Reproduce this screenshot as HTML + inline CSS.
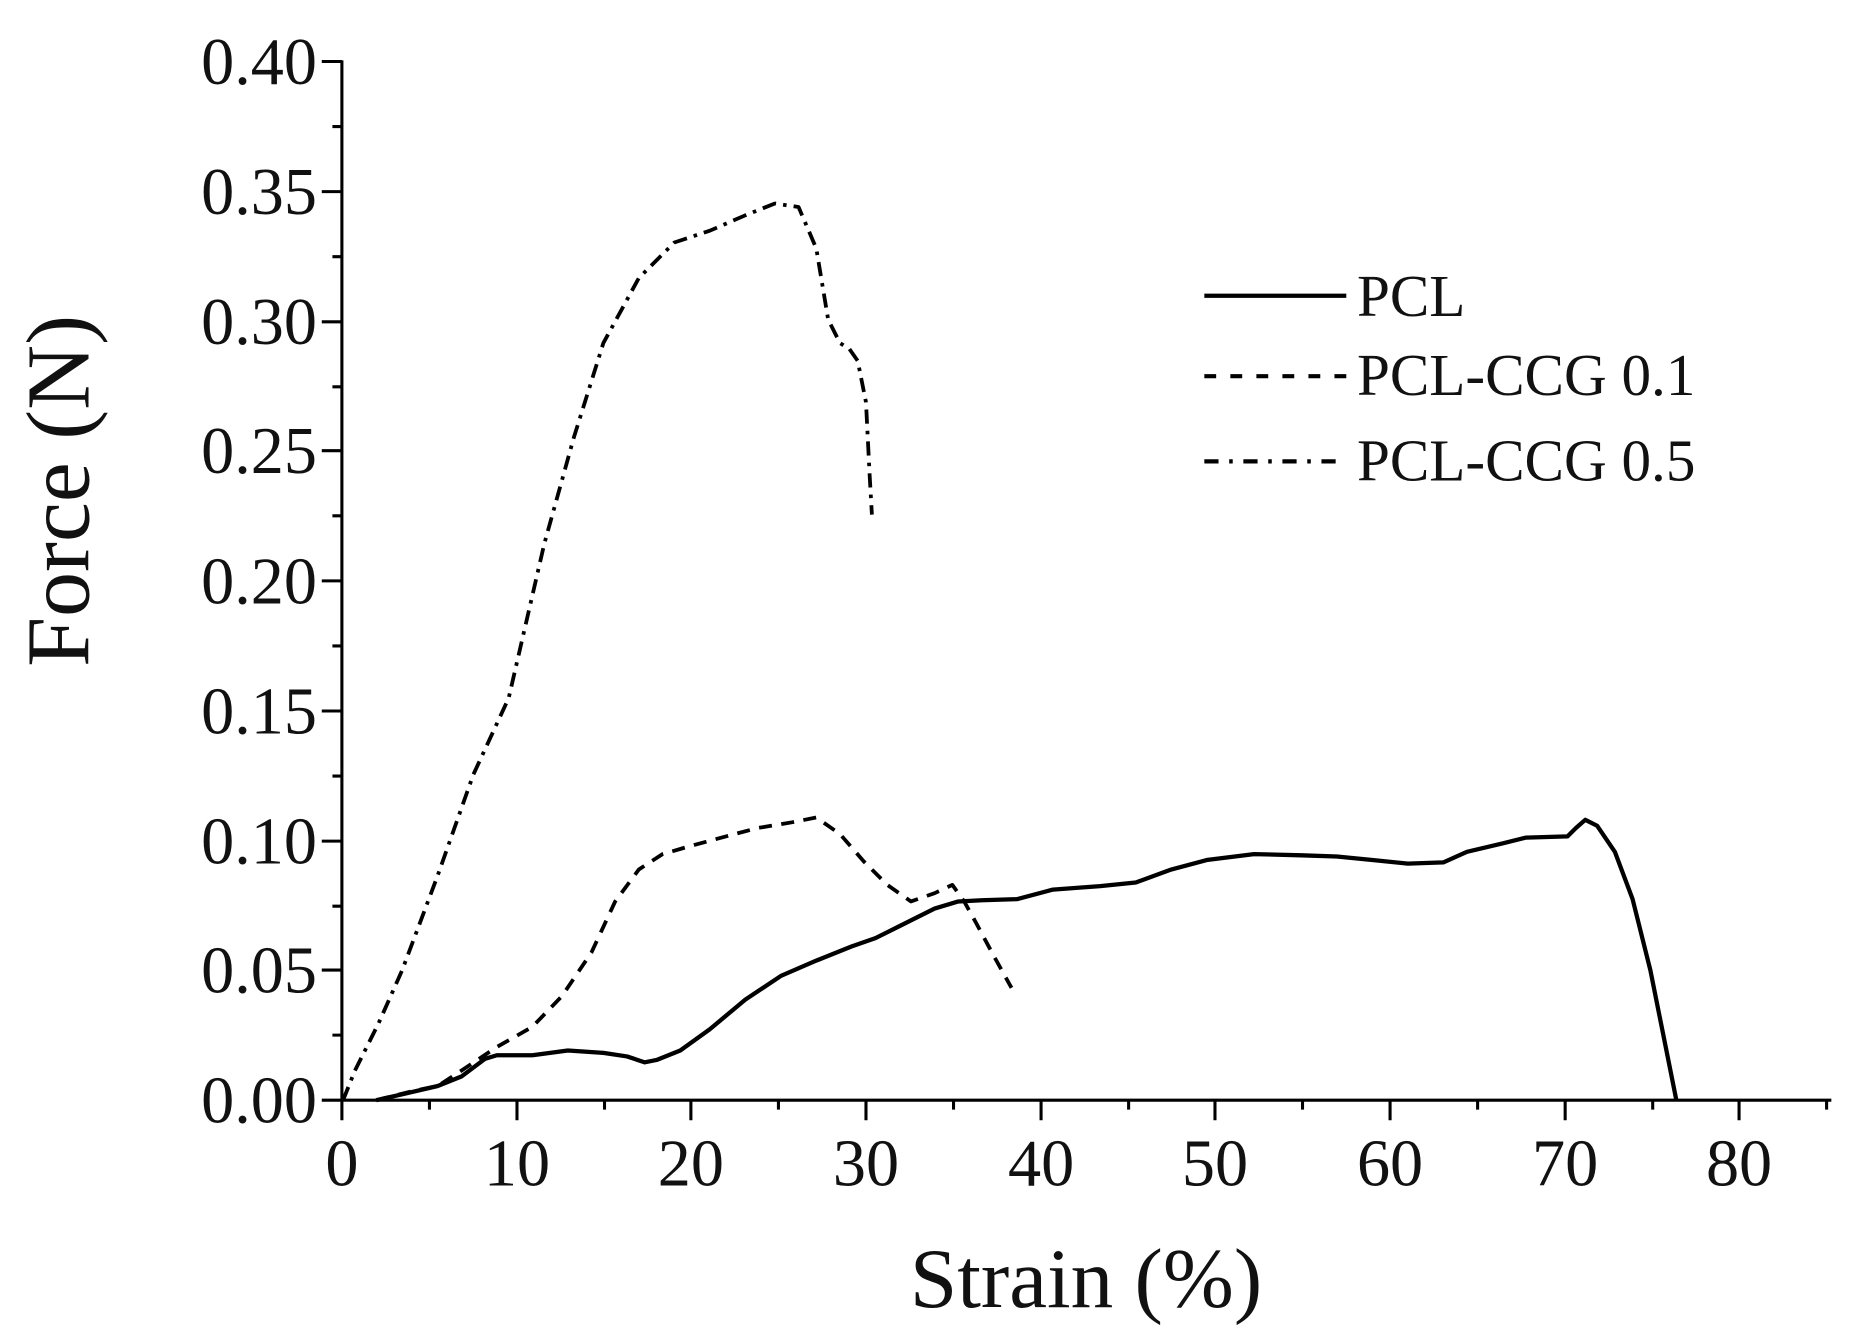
<!DOCTYPE html>
<html><head><meta charset="utf-8"><style>
html,body{margin:0;padding:0;background:#fff;}
svg{display:block;}
text{font-family:"Liberation Serif",serif;fill:#111;}
</style></head><body>
<svg width="1855" height="1342" viewBox="0 0 1568 1134.4" preserveAspectRatio="none" xmlns="http://www.w3.org/2000/svg">
<g stroke="#000" stroke-width="2.6" fill="none">
<line x1="289" y1="51" x2="289" y2="931"/>
<line x1="288" y1="930" x2="1548" y2="930"/>
<path d="M272 52H289M272 162H289M272 272H289M272 381H289M272 491H289M272 601H289M272 711H289M272 820H289M272 930H289"/>
<path d="M281 107H289M281 217H289M281 327H289M281 436H289M281 546H289M281 656H289M281 766H289M281 875H289"/>
<path d="M289 930V947M437 930V947M584 930V947M732 930V947M880 930V947M1027 930V947M1175 930V947M1323 930V947M1470 930V947"/>
<path d="M363 930V938M511 930V938M658 930V938M806 930V938M954 930V938M1101 930V938M1249 930V938M1397 930V938M1544 930V938"/>
</g>
<g font-size="56" text-anchor="end">
<text x="268" y="71">0.40</text><text x="268" y="181">0.35</text><text x="268" y="291">0.30</text>
<text x="268" y="400">0.25</text><text x="268" y="510">0.20</text><text x="268" y="620">0.15</text>
<text x="268" y="730">0.10</text><text x="268" y="839">0.05</text><text x="268" y="949">0.00</text>
</g>
<g font-size="56" text-anchor="middle">
<text x="289" y="1002">0</text><text x="437" y="1002">10</text><text x="584" y="1002">20</text>
<text x="732" y="1002">30</text><text x="880" y="1002">40</text><text x="1027" y="1002">50</text>
<text x="1175" y="1002">60</text><text x="1323" y="1002">70</text><text x="1470" y="1002">80</text>
</g>
<text x="918" y="1105" font-size="72" text-anchor="middle">Strain (%)</text>
<text transform="translate(75,415) rotate(-90)" font-size="76" text-anchor="middle">Force (N)</text>
<g stroke="#000" stroke-width="3.5" fill="none">
<line x1="1018" y1="250" x2="1138" y2="250"/>
<line x1="1018" y1="318" x2="1138" y2="318" stroke-dasharray="10 12"/>
<line x1="1018" y1="390" x2="1138" y2="390" stroke-dasharray="12 9 3 9"/>
</g>
<g font-size="50">
<text x="1147" y="267">PCL</text><text x="1147" y="334">PCL-CCG 0.1</text><text x="1147" y="406">PCL-CCG 0.5</text>
</g>
<g fill="none" stroke="#000" stroke-linejoin="round">
<polyline stroke-width="3.6" points="318,930 340,925 370,918 390,910 410,895 420,892 450,892 480,888 510,890 530,893 545,898 555,896 575,888 600,870 630,845 660,825 690,812 720,800 740,793 760,783 790,768 810,762 830,761 860,760 890,752 930,749 960,746 990,735 1020,727 1060,722 1100,723 1130,724 1160,727 1190,730 1220,729 1240,720 1270,713 1290,708 1325,707 1332,700 1340,693 1350,698 1365,720 1380,760 1395,820 1405,870 1417,930"/>
<polyline stroke-width="3.2" stroke-dasharray="11 8" points="318,930 350,922 370,918 390,905 420,885 450,868 475,842 500,805 520,762 540,735 560,722 584,715 610,708 640,700 670,695 690,691 710,705 730,728 750,748 770,762 790,755 805,748 815,762 825,780 840,808 855,835"/>
<polyline stroke-width="3.2" stroke-dasharray="12 6 3 6" points="290,930 300,905 320,865 340,820 370,740 400,655 430,590 460,460 485,370 510,290 540,235 570,205 600,195 630,182 655,172 675,175 690,210 700,270 710,290 718,295 725,305 732,340 735,400 737,435"/>
</g>
</svg>
</body></html>
